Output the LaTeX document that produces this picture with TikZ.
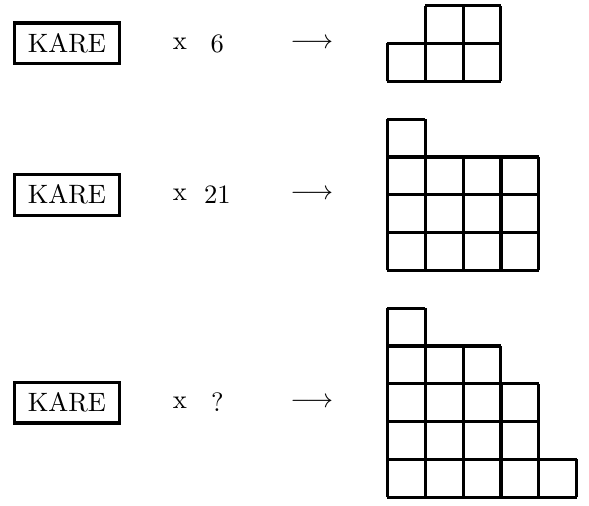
\documentclass[tikz,border=0pt]{standalone}
\usepackage{tikz}

\tikzset{
  karebox/.style={draw, very thick, inner xsep=5pt, inner ysep=4pt},
  unitsq/.style={very thick, step=0.5cm}
}

\begin{document}
\begin{tikzpicture}[x=0.5cm, y=0.5cm]

\useasboundingbox (-10.25, 0.15) rectangle (5.33, -13.21);

% Draw the first shape (6 squares)
\draw[unitsq] (0, -2) grid (3, -1);
\draw[unitsq] (1, -1) grid (3, 0);

% Draw the second shape (21 squares)
\draw[unitsq] (0, -4) grid (1, -3);
\draw[unitsq] (0, -7) grid (4, -4);

% Draw the third shape
\draw[unitsq] (0, -9) grid (1, -8);
\draw[unitsq] (0, -10) grid (3, -9);
\draw[unitsq] (0, -12) grid (4, -10);
\draw[unitsq] (0, -13) grid (5, -12);

% Add labels
\node[karebox] (kare1) at (-8.48, -1) {KARE};
\node[karebox] (kare2) at (-8.48, -5) {KARE};
\node[karebox] (kare3) at (-8.48, -10.5) {KARE};

\node (times1) at (-5.49, -1) {x};
\node (times2) at (-5.49, -5) {x};
\node (times3) at (-5.49, -10.5) {x};

\node (count1) at (-4.5, -1) {6};
\node (count2) at (-4.5, -5) {21};
\node (count3) at (-4.5, -10.5) {?};

\node (arrow1) at (-2, -1) {$\longrightarrow$};
\node (arrow2) at (-2, -5) {$\longrightarrow$};
\node (arrow3) at (-2, -10.5) {$\longrightarrow$};

\end{tikzpicture}
\end{document}
